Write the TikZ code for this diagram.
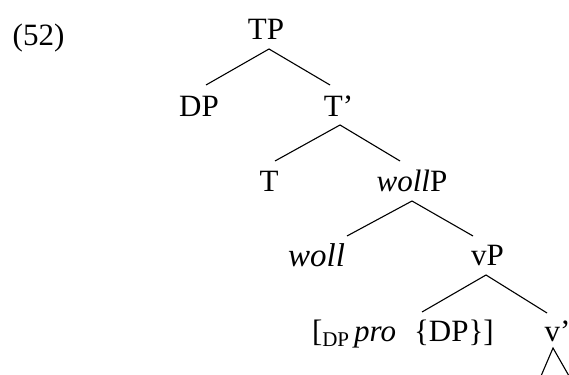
\documentclass[tikz,border=0pt]{standalone}
\usepackage{fontspec}
\setmainfont{Liberation Serif}
\begin{document}
\begin{tikzpicture}[x=1pt,y=1pt,
  lbl/.style={inner sep=0pt, outer sep=0pt, anchor=base, font=\fontsize{31}{31}\selectfont},
  edge/.style={line width=1.1pt}]
\useasboundingbox (0,0) rectangle (569,374);
\node[lbl] (ex) at (38.5,328) {(52)};
\node[lbl] (TP) at (266,334) {TP};
\node[lbl] (DP) at (199,257) {DP};
\node[lbl] (Tb) at (338.5,257) {T’};
\node[lbl] (T) at (269,182) {T};
\node[lbl] (wP) at (412,182) {\textit{woll}P};
\node[lbl, font=\fontsize{33}{33}\selectfont] (w) at (316.5,107) {\textit{woll}};
\node[lbl] (vP) at (487.5,108) {vP};
\node[lbl, anchor=base west] (spec) at (312,32) {[\raisebox{-5pt}{\fontsize{21}{21}\selectfont DP}\hspace{5pt}\textit{pro}\hspace{18pt}\{DP\}]};
\node[lbl] (vb) at (557.5,32) {v’};
\draw[edge] ([shift={(7,32)}]DP.base) -- ([shift={(3,-9)}]TP.base) -- ([shift={(-8.5,32)}]Tb.base);
\draw[edge] ([shift={(6,31)}]T.base) -- ([shift={(1.5,-8)}]Tb.base) -- ([shift={(-12,31)}]wP.base);
\draw[edge] ([shift={(30.5,31)}]w.base) -- ([shift={(0,-9)}]wP.base) -- ([shift={(-14.5,30)}]vP.base);
\draw[edge] ([shift={(110,30)}]spec.base west) -- ([shift={(-1.5,-9)}]vP.base) -- ([shift={(-10.5,29)}]vb.base);
\draw[edge] ([shift={(-16.5,-34)}]vb.base) -- ([shift={(-4.5,-6)}]vb.base) -- ([shift={(11.5,-34)}]vb.base);
\end{tikzpicture}
\end{document}
